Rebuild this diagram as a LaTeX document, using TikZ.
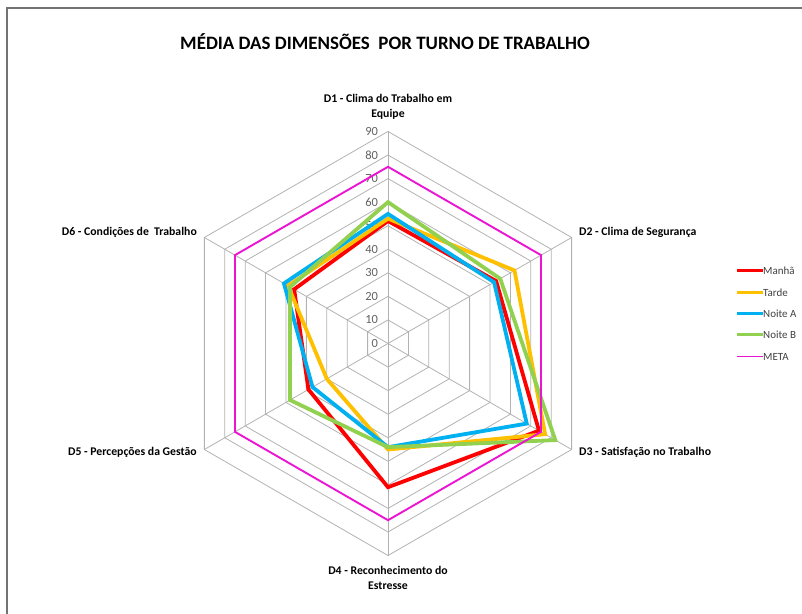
\documentclass[tikz,border=0pt]{standalone}
\usepackage{fontspec}
\setmainfont{Carlito}
\usepackage{tikz}
\usetikzlibrary{positioning}
\definecolor{manha}{RGB}{255,0,0}
\definecolor{tarde}{RGB}{255,192,0}
\definecolor{noitea}{RGB}{0,176,240}
\definecolor{noiteb}{RGB}{146,208,80}
\definecolor{metacor}{RGB}{235,20,210}
\tikzset{
  grade/.style={draw=black!30, line width=0.8bp},
  serie/.style={line width=3.8bp, line join=miter},
  metaserie/.style={draw=metacor, line width=1.9bp},
  eixo/.style={font=\bfseries\fontsize{11.8}{14.5}\selectfont, align=center, inner sep=0pt},
  escala/.style={anchor=east, font=\fontsize{12.5}{13}\selectfont, text=black!62, inner sep=0pt},
  legenda/.style={anchor=west, font=\fontsize{11}{12}\selectfont, text=black!75, inner sep=0pt}
}
\begin{document}
\begin{tikzpicture}[x=1bp,y=1bp]
\useasboundingbox (0,0) rectangle (802,614);
\draw[black!55, line width=1.6bp] (7,0) -- (7,606) -- (802,606);
\node[font=\bfseries\fontsize{19}{21}\selectfont] (titulo) at (385,572) {MÉDIA DAS DIMENSÕES\ \ POR TURNO DE TRABALHO};

\begin{scope}[shift={(388,270.5)}, x=2.356bp, y=2.356bp]
% grade hexagonal
\draw[grade] (90:10) -- (30:10) -- (-30:10) -- (-90:10) -- (-150:10) -- (150:10) -- cycle;
\draw[grade] (90:20) -- (30:20) -- (-30:20) -- (-90:20) -- (-150:20) -- (150:20) -- cycle;
\draw[grade] (90:30) -- (30:30) -- (-30:30) -- (-90:30) -- (-150:30) -- (150:30) -- cycle;
\draw[grade] (90:40) -- (30:40) -- (-30:40) -- (-90:40) -- (-150:40) -- (150:40) -- cycle;
\draw[grade] (90:50) -- (30:50) -- (-30:50) -- (-90:50) -- (-150:50) -- (150:50) -- cycle;
\draw[grade] (90:60) -- (30:60) -- (-30:60) -- (-90:60) -- (-150:60) -- (150:60) -- cycle;
\draw[grade] (90:70) -- (30:70) -- (-30:70) -- (-90:70) -- (-150:70) -- (150:70) -- cycle;
\draw[grade] (90:80) -- (30:80) -- (-30:80) -- (-90:80) -- (-150:80) -- (150:80) -- cycle;
\draw[grade] (90:90) -- (30:90) -- (-30:90) -- (-90:90) -- (-150:90) -- (150:90) -- cycle;
\draw[grade] (90:90) -- (-90:90);
\draw[grade] (30:90) -- (-150:90);
\draw[grade] (-30:90) -- (150:90);
% escala
\node[escala] (e0) at (-4.2,0) {0};
\node[escala] (e10) at (-4.2,10) {10};
\node[escala] (e20) at (-4.2,20) {20};
\node[escala] (e30) at (-4.2,30) {30};
\node[escala] (e40) at (-4.2,40) {40};
\node[escala] (e50) at (-4.2,50) {50};
\node[escala] (e60) at (-4.2,60) {60};
\node[escala] (e70) at (-4.2,70) {70};
\node[escala] (e80) at (-4.2,80) {80};
\node[escala] (e90) at (-4.2,90) {90};
% turnos
\draw[serie, manha] (90:52) -- (30:53) -- (-30:74) -- (-90:61) -- (-150:39) -- (150:46) -- cycle;
\draw[serie, tarde] (90:53) -- (30:62) -- (-30:77) -- (-90:45) -- (-150:30) -- (150:49) -- cycle;
\draw[serie, noitea] (90:55) -- (30:52) -- (-30:68) -- (-90:44) -- (-150:37) -- (150:51) -- cycle;
\draw[serie, noiteb] (90:60) -- (30:55) -- (-30:82) -- (-90:44) -- (-150:48) -- (150:48) -- cycle;
\draw[metaserie] (90:75) -- (30:75) -- (-30:75) -- (-90:75) -- (-150:75) -- (150:75) -- cycle;
\end{scope}

% rotulos dos eixos
\node[eixo] (d1) at (388,507) {D1 - Clima do Trabalho em\\Equipe};
\node[eixo, anchor=west] (d2) at (579,382) {D2 - Clima de Segurança};
\node[eixo, anchor=west] (d3) at (579,162) {D3 - Satisfação no Trabalho};
\node[eixo] (d4) at (388,36) {D4 - Reconhecimento do\\Estresse};
\node[eixo, anchor=east] (d5) at (197,162) {D5 - Percepções da Gestão};
\node[eixo, anchor=east] (d6) at (197,382) {D6 - Condições de\ \ Trabalho};

% legenda
\node[legenda] (lmanha) at (763,343.3) {Manhã};
\node[legenda] (ltarde) at (763,321.7) {Tarde};
\node[legenda] (lnoitea) at (763,300) {Noite A};
\node[legenda] (lnoiteb) at (763,279) {Noite B};
\node[legenda] (lmeta) at (763,257.3) {META};
\coordinate (cmanha) at (737,343.3);
\coordinate (ctarde) at (737,321.7);
\coordinate (cnoitea) at (737,300);
\coordinate (cnoiteb) at (737,279);
\coordinate (cmeta) at (737,257.3);
\draw[serie, manha, line width=3bp] (cmanha) -- (lmanha.west);
\draw[serie, tarde, line width=3bp] (ctarde) -- (ltarde.west);
\draw[serie, noitea, line width=3bp] (cnoitea) -- (lnoitea.west);
\draw[serie, noiteb, line width=3bp] (cnoiteb) -- (lnoiteb.west);
\draw[metaserie, line width=1.6bp] (cmeta) -- (lmeta.west);
\end{tikzpicture}
\end{document}
